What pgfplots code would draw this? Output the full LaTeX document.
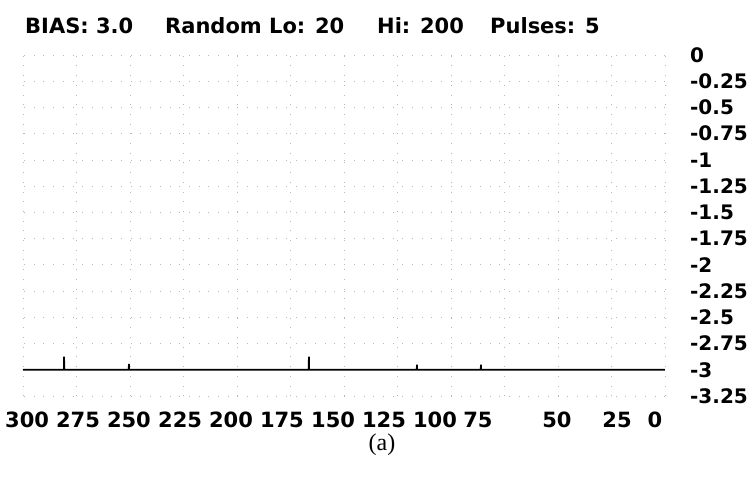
\documentclass[border=0pt]{standalone}
\usepackage{pgfplots}
\pgfplotsset{compat=1.18}
\usepackage{fontspec}
\setmainfont{DejaVu Sans}
\newfontfamily\capfont{Liberation Serif}
\begin{document}
\begin{tikzpicture}
\useasboundingbox (0bp,0bp) rectangle (755bp,483bp);
\begin{axis}[
  at={(23bp,87bp)}, anchor=south west,
  width=642bp, height=341bp, scale only axis,
  xmin=0, xmax=300, x dir=reverse,
  ymin=-3.25, ymax=0,
  clip=false,
  axis line style={draw=none},
  major tick length=0pt,
  xtick={298.1,274.3,250.5,226.6,202.8,179.0,155.1,131.3,107.5,87.4,50.5,22.4,4.7},
  xticklabels={300,275,250,225,200,175,150,125,100,75,50,25,0},
  xticklabel style={font=\bfseries\fontsize{21bp}{21bp}\selectfont, anchor=center, inner sep=0pt, yshift=-24bp},
  extra x ticks={0,25,50,75,100,125,150,175,200,225,250,275,300},
  extra x tick labels={},
  extra x tick style={grid=major},
  ytick={0,-0.25,-0.5,-0.75,-1,-1.25,-1.5,-1.75,-2,-2.25,-2.5,-2.75,-3,-3.25},
  yticklabels={0,-0.25,-0.5,-0.75,-1,-1.25,-1.5,-1.75,-2,-2.25,-2.5,-2.75,-3,-3.25},
  yticklabel pos=right,
  yticklabel style={font=\bfseries\fontsize{20bp}{20bp}\selectfont, anchor=west, inner sep=0pt, xshift=25bp},
  ymajorgrids=true,
  grid style={black!28, line width=0.7bp, dash pattern=on 0.7bp off 9bp},
]
\addplot[black, line width=1.7bp, mark=none] coordinates {
  (300,-3) (280.9,-3) (280.8,-2.876) (280.7,-3)
  (250.6,-3) (250.5,-2.943) (250.4,-3)
  (166.5,-3) (166.4,-2.876) (166.3,-3)
  (116.0,-3) (115.9,-2.952) (115.8,-3)
  (86.1,-3) (86.0,-2.952) (85.9,-3)
  (0,-3)
};
\end{axis}
\begin{scope}[every node/.style={anchor=base west, inner sep=0pt, font=\bfseries\fontsize{21bp}{21bp}\selectfont}]
\node at (25bp,449.7bp) {BIAS: 3.0};
\node at (165bp,449.7bp) {Random Lo: 20};
\node at (377bp,449.7bp) {Hi: 200};
\node at (490bp,449.7bp) {Pulses: 5};
\end{scope}
\node[anchor=base, inner sep=0pt, font=\capfont\fontsize{24bp}{24bp}\selectfont] at (382bp,33bp) {(a)};
\end{tikzpicture}
\end{document}
